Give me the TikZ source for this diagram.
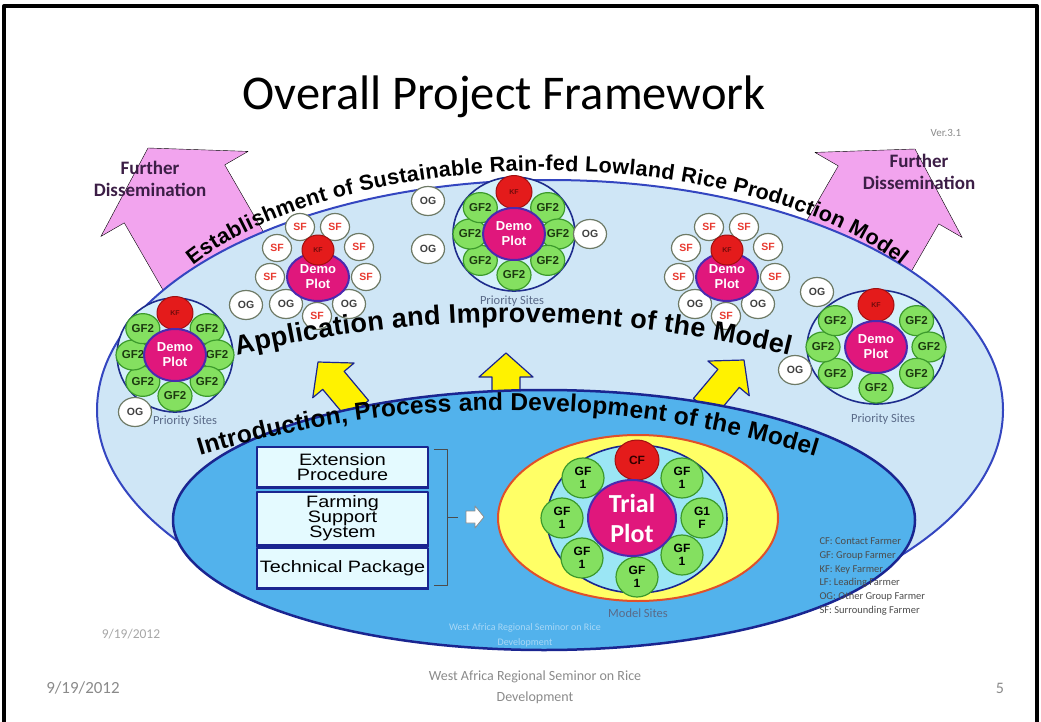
\documentclass[tikz,border=0pt]{standalone}
\usepackage{fontspec}
\setmainfont{Carlito}
\newfontfamily\arialfont{Liberation Sans}
\newfontfamily\widearial[FakeStretch=1.2]{Liberation Sans}
\usetikzlibrary{shapes.geometric, calc, decorations.text}

\definecolor{fieldlight}{HTML}{CFE6F6}
\definecolor{fieldedge}{HTML}{3446C0}
\definecolor{corefill}{HTML}{52B2EC}
\definecolor{coreedge}{HTML}{1A2590}
\definecolor{gffill}{HTML}{84E060}
\definecolor{gfedge}{HTML}{3C9A2C}
\definecolor{gftext}{HTML}{1C3A10}
\definecolor{kffill}{HTML}{E41B1B}
\definecolor{kfedge}{HTML}{A01010}
\definecolor{demofill}{HTML}{E0177C}
\definecolor{demoedge}{HTML}{4A2AB0}
\definecolor{ogedge}{HTML}{6E7A66}
\definecolor{sftext}{HTML}{E83A30}
\definecolor{sitefill}{HTML}{D4F0FA}
\definecolor{siteedge}{HTML}{1E2C8C}
\definecolor{pinkarrow}{HTML}{F2A4EE}
\definecolor{dissemtext}{HTML}{3C1E46}
\definecolor{trialyellow}{HTML}{FFFF66}
\definecolor{trialedge}{HTML}{E0502A}
\definecolor{trialcyan}{HTML}{9BE6F5}
\definecolor{boxfill}{HTML}{E4FAFF}
\definecolor{labelgrey}{HTML}{5A6A88}
\definecolor{footgrey}{HTML}{8A8A8A}

\tikzset{
  fieldline/.style={draw=fieldedge, fill=fieldlight, line width=2pt},
  coreline/.style={draw=coreedge, fill=corefill, line width=2.5pt},
  dissemarrow/.style={fill=pinkarrow},
  liftarrow/.style={fill=yellow, draw=coreedge, line width=1.2pt},
  pusharrow/.style={fill=white, draw=black!45, line width=0.8pt},
  gfnode/.style={ellipse, draw=gfedge, fill=gffill, line width=1.2pt, minimum width=34pt,
    minimum height=30pt, inner sep=0pt, text=gftext, font=\arialfont\bfseries\fontsize{11.5}{12}\selectfont},
  kfnode/.style={ellipse, draw=kfedge, fill=kffill, line width=1pt, minimum width=36pt,
    minimum height=33pt, inner sep=0pt, text=kfedge!70!black, font=\arialfont\bfseries\fontsize{7}{8}\selectfont},
  demonode/.style={ellipse, draw=demoedge, fill=demofill, line width=2pt, minimum width=62pt,
    minimum height=52pt, inner sep=0pt, align=center, text=white, font=\arialfont\bfseries\fontsize{13}{15}\selectfont},
  ognode/.style={ellipse, draw=ogedge, fill=white, line width=1.2pt, minimum width=33pt,
    minimum height=29pt, inner sep=0pt, text=black!75, font=\arialfont\bfseries\fontsize{10.5}{11}\selectfont},
  sfnode/.style={ognode, minimum width=29pt, minimum height=27pt, text=sftext},
  siteouter/.style={ellipse, draw=siteedge, fill=sitefill, line width=1.6pt, minimum height=114pt},
  sitelabel/.style={text=labelgrey, font=\fontsize{12.5}{13}\selectfont},
  modelring/.style={ellipse, draw=trialedge, fill=trialyellow, line width=2pt, minimum width=280pt, minimum height=166pt},
  modelcore/.style={ellipse, draw=coreedge, fill=trialcyan, line width=1.6pt, minimum width=180pt, minimum height=148pt},
  gfonenode/.style={gfnode, minimum width=42pt, minimum height=40pt, align=center, text=black,
    font=\arialfont\bfseries\fontsize{12}{13}\selectfont},
  cfnode/.style={kfnode, minimum width=44pt, minimum height=40pt, text=black!80!red, font=\arialfont\bfseries\fontsize{12}{13}\selectfont},
  trialnode/.style={demonode, minimum width=88pt, minimum height=76pt, font=\bfseries\fontsize{26}{30}\selectfont},
  stepbox/.style={rectangle, draw=coreedge, line width=1.5pt, fill=boxfill, minimum width=171pt,
    minimum height=40pt, inner sep=0pt, align=center, font=\widearial\fontsize{16.5}{15}\selectfont},
  dissemlabel/.style={align=center, text=dissemtext, font=\bfseries\fontsize{19}{22}\selectfont},
  foottext/.style={text=footgrey, font=\fontsize{14}{21}\selectfont, align=center},
}

% block arrow: #1,#2 = tip, #3 = direction of the tail, #4 = length,
% #5 = head length, #6 = half head width, #7 = half shaft width, #8 = style
\newcommand{\blockarrow}[8]{%
  \draw[#8, shift={(#1,#2)}, rotate=#3] (0,0) -- (#5,#6) -- (#5,#7) -- (#4,#7)
    -- (#4,-#7) -- (#5,-#7) -- (#5,-#6) -- cycle;
}

% priority site with group farmers: #1 = name, #2,#3 = centre of the demo plot,
% #4 = x radius of the ring, #5 = width of the site
\newcommand{\prioritysite}[5]{%
  \node[siteouter, minimum width=#5pt] (#1) at (#2,#3) {};
  \foreach \a [count=\i] in {40,0,-40,-90,-140,180,140}
    \node[gfnode] (#1-gf\i) at ({#2+#4*cos(\a)},{#3-41*sin(\a)}) {GF2};
  \node[kfnode] (#1-kf) at (#2,#3-42) {KF};
  \node[demonode] (#1-demo) at (#2,#3) {Demo\\Plot};
}

% priority site with surrounding farmers
\newcommand{\surroundsite}[3]{%
  \foreach \dx/\dy [count=\i] in {-18/-50,17/-50,-41/-29,41/-30,-48/0,48/0,-1/39}
    \node[sfnode] (#1-sf\i) at (#2+\dx,#3+\dy) {SF};
  \foreach \dx/\dy [count=\i] in {-32/27,31/27}
    \node[ognode] (#1-og\i) at (#2+\dx,#3+\dy) {OG};
  \node[demonode, minimum height=48pt] (#1-demo) at (#2,#3) {Demo\\Plot};
  \node[kfnode, minimum width=32pt, minimum height=30pt] (#1-kf) at (#2,#3-27) {KF};
}

\begin{document}
\begin{tikzpicture}[x=1pt, y=-1pt, line join=round]
\useasboundingbox (0,0) rectangle (1041,722);

% dissemination arrows, tails hidden behind the field
\blockarrow{148}{148}{-60}{290}{53}{85}{58}{dissemarrow}
\blockarrow{915}{149}{-120}{290}{53}{85}{58}{dissemarrow}

% outer field, arrows, inner field
\draw[fieldline] (550,410) ellipse [x radius=453, y radius=230];
\blockarrow{318}{362}{-50}{62}{24}{27}{14}{liftarrow}
\blockarrow{506}{353}{-90}{62}{24}{27}{14}{liftarrow}
\blockarrow{744}{360}{-130}{62}{24}{27}{14}{liftarrow}
\draw[coreline] (544,520) ellipse [x radius=371, y radius=130];

% priority sites
\prioritysite{siteA}{175}{355}{42}{116}
\prioritysite{siteC}{514}{234}{44}{122}
\prioritysite{siteE}{876}{347}{53}{138}
\surroundsite{siteB}{318}{277}
\surroundsite{siteD}{727}{277}
\node[sitelabel] (siteA-label) at (185,421) {Priority Sites};
\node[sitelabel] (siteC-label) at (512,301) {Priority Sites};
\node[sitelabel] (siteE-label) at (883,419) {Priority Sites};

% other groups
\foreach \x/\y [count=\i] in {135/412,246/305,428/201,428/249,590/234,817/292,795/370,530/495,740/488,742/545}
  \node[ognode] (og\i) at (\x,\y) {OG};

% model site
\node[modelring] (model) at (638,518) {};
\node[modelcore] (model-core) at (637,519) {};
\node[gfonenode] (model-gf1) at (583,478) {GF\\1};
\node[gfonenode] (model-gf2) at (682,478) {GF\\1};
\node[gfonenode] (model-gf3) at (562,518) {GF\\1};
\node[gfonenode] (model-gf4) at (702,518) {G1\\F};
\node[gfonenode] (model-gf5) at (582,558) {GF\\1};
\node[gfonenode] (model-gf6) at (682,555) {GF\\1};
\node[gfonenode] (model-gf7) at (637,577) {GF\\1};
\node[cfnode] (model-cf) at (637,460) {CF};
\node[trialnode] (trial) at (632,518) {Trial\\Plot};
\node[sitelabel] (model-label) at (638,613) {Model Sites};

% introduction steps
\node[stepbox] (ext) at (342.5,467) {Extension\\Procedure};
\node[stepbox, minimum height=53pt] (farm) at (342.5,518.5) {Farming\\Support\\System};
\node[stepbox] (tech) at (342.5,568) {Technical Package};
\foreach \b in {ext,farm,tech}
  \draw[coreedge, line width=3pt] (\b.south west) -- (\b.south east);
\draw[black!70, line width=0.8pt] ($(ext.north east)+(5,3)$) -- ++(14,0) |- ($(tech.south east)+(5,-3)$);
\coordinate (brace) at (447,517);
\coordinate (brace-tick) at (458,517);
\draw[black!70, line width=0.8pt] (brace) -- (brace-tick);
\blockarrow{484}{517}{180}{18}{9}{11}{6}{pusharrow}

% texts along the fields
\path[decorate, decoration={text along path, text align={fit to path},
    text={|\arialfont\bfseries\fontsize{21.5}{22}\selectfont|Establishment of Sustainable Rain-fed Lowland Rice Production Model}}]
  ({547+410*cos(210.3)},{362+191*sin(210.3)}) arc[start angle=210.3, end angle=329.7, x radius=410, y radius=191];
\path[decorate, decoration={text along path, text align={fit to path},
    text={|\arialfont\bfseries\fontsize{27}{28}\selectfont|Application and Improvement of the Model}}]
  ({513+1154*cos(256.16)},{1476+1154*sin(256.16)}) arc[start angle=256.16, end angle=283.84, radius=1154];
\path[decorate, decoration={text along path, text align={fit to path},
    text={|\arialfont\bfseries\fontsize{24.5}{26}\selectfont|Introduction, Process and Development of the Model}}]
  ({507+1054*cos(253.07)},{1464+1054*sin(253.07)}) arc[start angle=253.07, end angle=286.99, radius=1054];

% labels
\node[dissemlabel] (dissem-left) at (150,179) {Further\\Dissemination};
\node[dissemlabel] (dissem-right) at (919,172) {Further\\Dissemination};
\node[font=\fontsize{48.5}{52}\selectfont] (title) at (504,97) {Overall Project Framework};
\node[text=footgrey, font=\fontsize{11}{12}\selectfont] (version) at (946,133) {Ver.3.1};
\node[anchor=west, align=left, text=black!70, font=\fontsize{10.5}{13.8}\selectfont] (legend) at (816,576.5)
  {CF: Contact Farmer\\GF: Group Farmer\\KF: Key Farmer\\LF: Leading Farmer\\OG: Other Group Farmer\\SF: Surrounding Farmer};
\node[text=black!35, font=\fontsize{13.5}{14}\selectfont] (stamp-date) at (131,634) {9/19/2012};
\node[text=white!50!corefill, align=center, font=\fontsize{10}{15}\selectfont] (stamp-title) at (525,635)
  {West Africa Regional Seminor on Rice\\Development};

% footer
\node[foottext, font=\fontsize{17}{21}\selectfont] (foot-date) at (83,688) {9/19/2012};
\node[foottext] (foot-title) at (535,687) {West Africa Regional Seminor on Rice\\Development};
\node[foottext, font=\fontsize{16}{21}\selectfont] (foot-page) at (1000,688) {5};

% slide frame
\draw[line width=4pt] (4,722) -- (4,6) -- (1037,6) -- (1037,722);
\end{tikzpicture}
\end{document}
